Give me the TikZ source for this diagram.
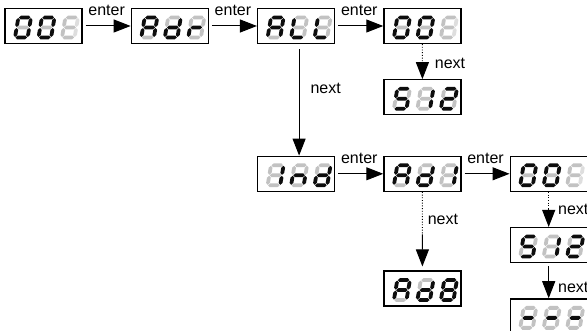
\documentclass[tikz,border=0pt]{standalone}
\usepackage{fontspec}
\setmainfont{Liberation Sans}
\usetikzlibrary{positioning,arrows.meta,calc}
\definecolor{seg0}{gray}{0.76}
\definecolor{seg1}{gray}{0.05}
\definecolor{seg2}{gray}{0.87}

% one bar of a seven-segment digit
\newcommand{\hseg}[2]{\fill[#2] (-5.8,#1) -- ++(1.9,1.9) -- ++(7.8,0) -- ++(1.9,-1.9) -- ++(-1.9,-1.9) -- ++(-7.8,0) -- cycle;}
\newcommand{\vseg}[3]{\fill[#3] (#1,#2+0.5) -- ++(1.9,1.9) -- ++(0,5.2) -- ++(-1.9,1.9) -- ++(-1.9,-1.9) -- ++(0,-5.2) -- cycle;}
% digit: position, then segments a..g (0 off, 1 on, 2 blinking)
\newcommand{\segdigit}[8]{%
  \begin{scope}[shift={#1}, xslant=0.17]
    \hseg{10}{seg#2}
    \vseg{6.3}{0}{seg#3}
    \vseg{6.3}{-10}{seg#4}
    \hseg{-10}{seg#5}
    \vseg{-6.3}{-10}{seg#6}
    \vseg{-6.3}{0}{seg#7}
    \hseg{0}{seg#8}
  \end{scope}}
% three digits inside a display node
\newcommand{\segbox}[4]{%
  \segdigit{($(#1)+(-20.5,-1.5)$)}#2
  \segdigit{($(#1)+(3,-1.5)$)}#3
  \segdigit{($(#1)+(26.5,-1.5)$)}#4}

\begin{document}
\begin{tikzpicture}[x=1pt, y=1pt,
    font=\fontsize{16}{19}\selectfont,
    disp/.style={draw, line width=1.3pt, minimum width=77pt,
                 minimum height=35pt, inner sep=0pt},
    lbl/.style={inner sep=1pt},
    arr/.style={-{Triangle[length=17pt,width=13pt]}, line width=1pt},
    dots/.style={line width=0.9pt, dash pattern=on 0.9pt off 1.8pt}
]
\useasboundingbox (-43.5,26) rectangle (543.5,-305);

\node[disp] (addr) at (0,0) {};
\node[disp, right=48pt of addr] (adr) {};
\node[disp, right=48pt of adr] (all) {};
\node[disp, right=48pt of all] (allval) {};
\node[disp, below=35pt of allval] (allmax) {};
\node[disp, below=111.5pt of all] (ind) {};
\node[disp, right=48pt of ind] (ad1) {};
\node[disp, right=48pt of ad1] (indval) {};
\node[disp, below=78.5pt of ad1] (ad8) {};
\node[disp, below=35pt of indval] (indmax) {};
\node[disp, below=35pt of indmax] (indoff) {};

\segbox{addr}{1111110}{1111110}{0220000}
\segbox{adr}{1110111}{0111101}{0000101}
\segbox{all}{1110111}{0001110}{0001110}
\segbox{allval}{1111110}{1111110}{0220000}
\segbox{allmax}{1011011}{0110000}{1101101}
\segbox{ind}{0110000}{0010101}{0111101}
\segbox{ad1}{1110111}{0111101}{0110000}
\segbox{indval}{1111110}{1111110}{0220000}
\segbox{ad8}{1110111}{0111101}{1111111}
\segbox{indmax}{1011011}{0110000}{1101101}
\segbox{indoff}{0000001}{0000001}{0000001}

\coordinate (j1) at ($(allval.south)!0.55!(allmax.north)$);
\coordinate (j2) at ($(ad1.south)!0.54!(ad8.north)$);
\coordinate (j3) at ($(indval.south)!0.5!(indmax.north)$);

% first row
\draw[arr, shorten <=3pt] (addr) -- node[lbl, above, yshift=9pt] {enter} (adr);
\draw[arr, shorten <=3pt] (adr) -- node[lbl, above, yshift=9pt] {enter} (all);
\draw[arr, shorten <=3pt] (all) -- node[lbl, above, yshift=9pt] {enter} (allval);
\draw[dots] (allval) -- (j1);
\draw[arr] (j1) -- node[lbl, right, pos=0, xshift=11pt] {next} (allmax);
\draw[arr, shorten <=5pt] ([xshift=3pt]all.south) -- node[lbl, right, pos=0.4, xshift=10pt] {next} ([xshift=3pt]ind.north);

% second row
\draw[arr, shorten <=3pt] (ind) -- node[lbl, above, yshift=9pt] {enter} (ad1);
\draw[arr, shorten <=3pt] (ad1) -- node[lbl, above, yshift=9pt] {enter} (indval);
\draw[dots] (ad1) -- node[lbl, right, pos=0.65, xshift=4pt] {next} (j2);
\draw[arr, shorten >=4pt] (j2) -- (ad8);
\draw[dots] (indval) -- (j3);
\draw[arr] (j3) -- node[lbl, right, pos=0, xshift=8pt] {next} (indmax);
\draw[arr, shorten <=3pt] (indmax) -- node[lbl, right, pos=0.7, xshift=8pt] {next} (indoff);
\end{tikzpicture}
\end{document}
